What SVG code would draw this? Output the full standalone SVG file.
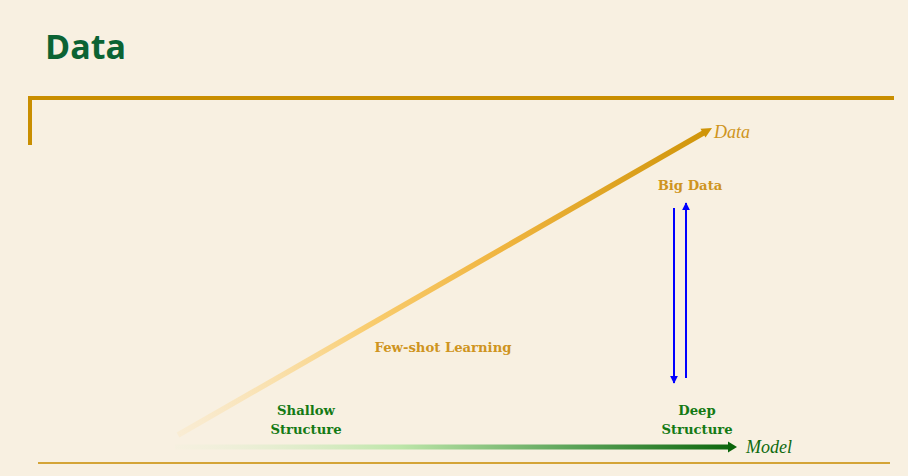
<svg xmlns="http://www.w3.org/2000/svg" width="908" height="476" viewBox="0 0 908 476">
<defs>
<linearGradient id="gData" gradientUnits="userSpaceOnUse" x1="178" y1="435" x2="712" y2="128">
<stop offset="0" stop-color="#FBE3B4" stop-opacity="0.3"/>
<stop offset="0.35" stop-color="#F9CD70"/>
<stop offset="0.6" stop-color="#F0B540"/>
<stop offset="1" stop-color="#CF9408"/>
</linearGradient>
<linearGradient id="gModel" gradientUnits="userSpaceOnUse" x1="175" y1="0" x2="737" y2="0">
<stop offset="0" stop-color="#F1F1DC" stop-opacity="0.3"/>
<stop offset="0.4" stop-color="#BDE6A9"/>
<stop offset="0.7" stop-color="#5DA55A"/>
<stop offset="1" stop-color="#0B650B"/>
</linearGradient>
<marker id="mBlue" viewBox="0 0 10 10" refX="9" refY="5" markerWidth="4" markerHeight="4" orient="auto" markerUnits="strokeWidth">
<path d="M0,0 L10,5 L0,10 Z" fill="#0000FF"/>
</marker>
</defs>
<style>
.bg{fill:#F8F0E1}
.title{font-family:"Open Sans","Lato",sans-serif;font-weight:bold;font-size:34px;fill:#0B6333}
.lbl{font-family:"DejaVu Serif","Liberation Serif",serif;font-weight:bold;font-size:13.2px;text-anchor:middle}
.gold{fill:#CF9420}
.green{fill:#147A14}
.axis{font-family:"Liberation Serif","DejaVu Serif",serif;font-style:italic;font-size:18px}
.blue{stroke:#0000FF;stroke-width:2;fill:none}
</style>
<rect class="bg" x="0" y="0" width="908" height="476"/>
<g id="title"><text class="title" x="45" y="59">Data</text></g>
<g id="frame">
<path d="M30,145 V98 H894" fill="none" stroke="#C98E00" stroke-width="4"/>
<line x1="38" y1="463" x2="890" y2="463" stroke="#D4A437" stroke-width="2"/>
</g>
<g id="connectors">
<line x1="178" y1="435" x2="704" y2="132.6" stroke="url(#gData)" stroke-width="5.5"/>
<path d="M712,128 L700.5,128.8 L705.5,137.5 Z" fill="#CF9408"/>
<line x1="175" y1="447" x2="729" y2="447" stroke="url(#gModel)" stroke-width="5"/>
<path d="M737,447 L728,441.5 L728,452.5 Z" fill="#0B650B"/>
<line class="blue" x1="674" y1="208" x2="674" y2="383" marker-end="url(#mBlue)"/>
<line class="blue" x1="686" y1="378" x2="686" y2="203" marker-end="url(#mBlue)"/>
</g>
<g id="data-axis"><text class="axis gold" x="714" y="138">Data</text></g>
<g id="model-axis"><text class="axis green" x="746" y="453" style="fill:#0E6A0E">Model</text></g>
<g id="big-data"><text class="lbl gold" x="690" y="190">Big Data</text></g>
<g id="few-shot"><text class="lbl gold" x="443" y="352">Few-shot Learning</text></g>
<g id="shallow"><text class="lbl green" x="306" y="415">Shallow</text><text class="lbl green" x="306" y="434">Structure</text></g>
<g id="deep"><text class="lbl green" x="697" y="415">Deep</text><text class="lbl green" x="697" y="434">Structure</text></g>
</svg>
